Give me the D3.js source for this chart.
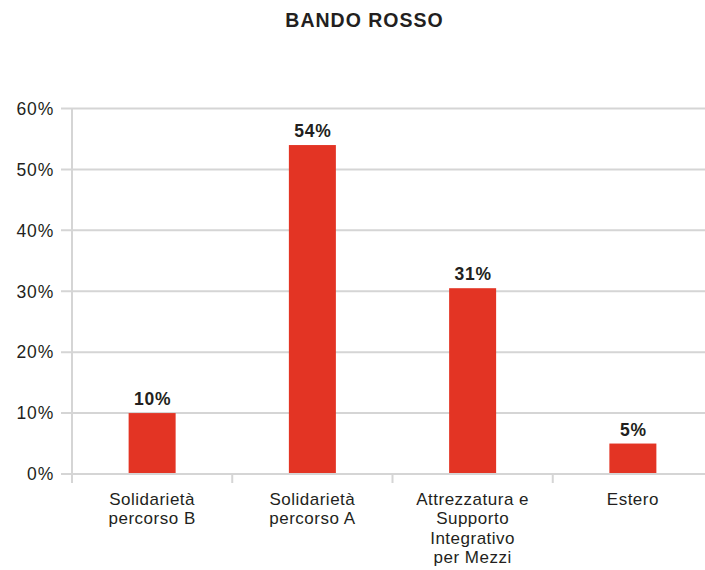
<!DOCTYPE html>
<html><head><meta charset="utf-8">
<script src="https://cdn.jsdelivr.net/npm/d3@7"></script>
<style>body{margin:0;background:#fff}svg{display:block}</style>
</head><body>
<script>
const categories = [["Solidarietà","percorso B"],["Solidarietà","percorso A"],["Attrezzatura e","Supporto","Integrativo","per Mezzi"],["Estero"]];
const values = [10, 54, 30.5, 5];
const yTicks = [0, 10, 20, 30, 40, 50, 60];
const title = "BANDO ROSSO";

const W = 705, H = 570;
const svg = d3.select("body").append("svg").attr("width", W).attr("height", H);
const font = "'Liberation Sans', Arial, Helvetica, sans-serif";
const x = d3.scaleBand().domain(d3.range(categories.length)).range([72, 713]).paddingInner(0).paddingOuter(0);
const y = d3.scaleLinear().domain([0, 60]).range([474, 108.5]);
const grid = "#d5d5d5", txt = "#231f20", red = "#e33424";

svg.append("text").attr("x", 364.5).attr("y", 27).attr("text-anchor", "middle")
  .attr("font-family", font).attr("font-weight", "bold").attr("font-size", 19.5)
  .attr("letter-spacing", 1).attr("fill", txt).text(title);

// gridlines
svg.append("g").selectAll("line").data(yTicks).join("line")
  .attr("x1", 61).attr("x2", W).attr("y1", d => y(d)).attr("y2", d => y(d))
  .attr("stroke", grid).attr("stroke-width", 2);
// y labels
svg.append("g").selectAll("text").data(yTicks).join("text")
  .attr("x", 54).attr("y", d => y(d)).attr("dy", "0.36em").attr("text-anchor", "end")
  .attr("font-family", font).attr("font-size", 17.5).attr("letter-spacing", 0.8)
  .attr("fill", txt).text(d => d + "%");
// y axis line
svg.append("line").attr("x1", 72).attr("x2", 72).attr("y1", y(60)).attr("y2", 483)
  .attr("stroke", grid).attr("stroke-width", 2);
// category ticks
svg.append("g").selectAll("line").data(d3.range(1, categories.length + 1)).join("line")
  .attr("x1", d => 72 + d * x.step()).attr("x2", d => 72 + d * x.step())
  .attr("y1", y(0)).attr("y2", 483).attr("stroke", grid).attr("stroke-width", 2);

const bw = 47;
svg.append("g").selectAll("rect").data(values).join("rect")
  .attr("x", (d, i) => x(i) + x.bandwidth() / 2 - bw / 2).attr("width", bw)
  .attr("y", d => y(d)).attr("height", d => y(0) - y(d) - 1).attr("fill", red);

svg.append("g").selectAll("text").data(values).join("text")
  .attr("x", (d, i) => x(i) + x.bandwidth() / 2 + 0.5).attr("y", d => y(d) - 8)
  .attr("text-anchor", "middle").attr("font-family", font).attr("font-weight", "bold")
  .attr("font-size", 17.5).attr("letter-spacing", 0.8).attr("fill", txt).text(d => Math.round(d) + "%");

const cl = svg.append("g").selectAll("text").data(categories).join("text")
  .attr("text-anchor", "middle").attr("font-family", font).attr("font-size", 17)
  .attr("letter-spacing", 0.5).attr("fill", txt);
cl.each(function(lines, i) {
  d3.select(this).selectAll("tspan").data(lines).join("tspan")
    .attr("x", x(i) + x.bandwidth() / 2).attr("y", (l, j) => 505 + j * 19.3).text(l => l);
});
</script>
</body></html>
